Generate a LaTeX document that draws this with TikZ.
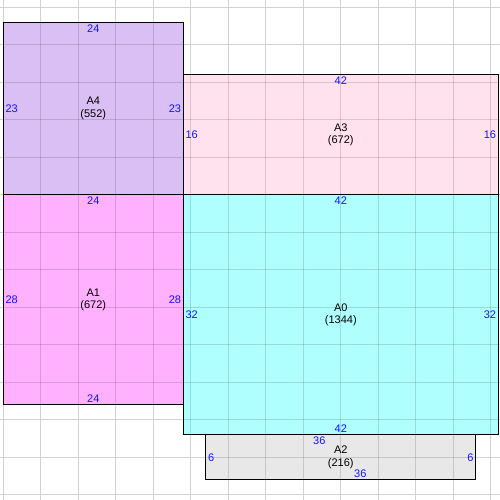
\documentclass[tikz,border=0pt]{standalone}
\usepackage{fontspec}
\setmainfont{Liberation Sans}
\definecolor{cA4}{RGB}{217,191,243}
\definecolor{cA1}{RGB}{255,176,255}
\definecolor{cA3}{RGB}{255,226,238}
\definecolor{cA0}{RGB}{176,255,255}
\definecolor{cA2}{RGB}{232,232,232}
\definecolor{gridgray}{RGB}{210,210,210}
\definecolor{dimblue}{RGB}{20,20,255}
\tikzset{
  room/.style={rectangle, inner sep=0pt, outer sep=0pt, anchor=north west, draw=none},
  gridline/.style={gridgray, line width=1pt},
  gridover/.style={black, opacity=0.14, line width=1pt},
  border/.style={black, line width=1.2pt},
  dim/.style={text=dimblue, font=\fontsize{11}{13}\selectfont, inner sep=2pt},
  roomname/.style={align=center, font=\fontsize{11}{12.5}\selectfont, inner sep=0pt, text=black}
}
\newcommand\roomnode[6]{\node[room, fill=#6, minimum width=#4*7.5pt, minimum height=#5*7.5pt] (#1) at (#2,#3) {};}
\begin{document}
\begin{tikzpicture}[x=1pt,y=-1pt]
\useasboundingbox (0,0) rectangle (500,500);
\clip (0,0) rectangle (500,500);
\begin{scope}[shift={(3.3pt,-7.3pt)}, x=7.5pt, y=-7.5pt]
  % background grid
  \foreach \i in {0,5,...,65} {
    \draw[gridline] (\i,-2) -- (\i,68);
    \draw[gridline] (-2,\i) -- (68,\i);
  }
  % fills
  \roomnode{A4}{0}{2}{24}{23}{cA4}
  \roomnode{A3}{24}{9}{42}{16}{cA3}
  \roomnode{A1}{0}{25}{24}{28}{cA1}
  \roomnode{A0}{24}{25}{42}{32}{cA0}
  \roomnode{A2}{27}{57}{36}{6}{cA2}
  % grid seen through the rooms
  \foreach \r in {A4,A3,A1,A0,A2} {
    \begin{scope}
      \clip (\r.north west) rectangle (\r.south east);
      \foreach \i in {0,5,...,65} {
        \draw[gridover] (\i,-2) -- (\i,68);
        \draw[gridover] (-2,\i) -- (68,\i);
      }
    \end{scope}
  }
  % borders
  \foreach \r in {A4,A3,A1,A0,A2} {
    \draw[border] (\r.north west) rectangle (\r.south east);
  }
  % labels A4
  \node[roomname] (A4c) at (A4.center) {A4\\(552)};
  \node[dim, anchor=north] (A4t) at (A4.north) {24};
  \node[dim, anchor=west] (A4l) at (A4.west) {23};
  \node[dim, anchor=east] (A4r) at (A4.east) {23};
  % labels A3
  \node[roomname] (A3c) at (A3.center) {A3\\(672)};
  \node[dim, anchor=north] (A3t) at (A3.north) {42};
  \node[dim, anchor=west] (A3l) at (A3.west) {16};
  \node[dim, anchor=east] (A3r) at (A3.east) {16};
  % labels A1
  \node[roomname] (A1c) at (A1.center) {A1\\(672)};
  \node[dim, anchor=north] (A1t) at (A1.north) {24};
  \node[dim, anchor=south] (A1b) at (A1.south) {24};
  \node[dim, anchor=west] (A1l) at (A1.west) {28};
  \node[dim, anchor=east] (A1r) at (A1.east) {28};
  % labels A0
  \node[roomname] (A0c) at (A0.center) {A0\\(1344)};
  \node[dim, anchor=north] (A0t) at (A0.north) {42};
  \node[dim, anchor=south] (A0b) at (A0.south) {42};
  \node[dim, anchor=west] (A0l) at (A0.west) {32};
  \node[dim, anchor=east] (A0r) at (A0.east) {32};
  % labels A2
  \node[roomname] (A2c) at (A2.center) {A2\\(216)};
  \node[dim, anchor=north, xshift=-21.5pt] (A2t) at (A2.north) {36};
  \node[dim, anchor=south, xshift=19.5pt] (A2b) at (A2.south) {36};
  \node[dim, anchor=west] (A2l) at (A2.west) {6};
  \node[dim, anchor=east] (A2r) at (A2.east) {6};
\end{scope}
\end{tikzpicture}
\end{document}
